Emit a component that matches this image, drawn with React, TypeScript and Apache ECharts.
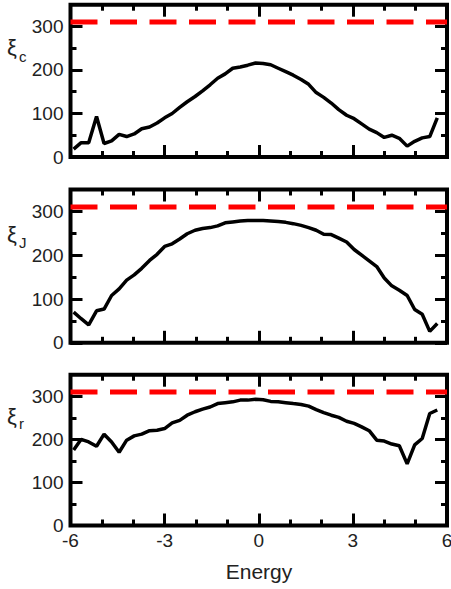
import React, { useEffect, useRef } from 'react';
import * as echarts from 'echarts';

// Energy grid shared by the three panels
const energies = [-5.9, -5.66, -5.42, -5.17, -4.93, -4.69, -4.45, -4.21, -3.97, -3.73, -3.48, -3.24, -3.0, -2.76, -2.52, -2.28, -2.03, -1.79, -1.55, -1.31, -1.07, -0.83, -0.59, -0.35, -0.1, 0.14, 0.38, 0.62, 0.86, 1.1, 1.35, 1.59, 1.83, 2.07, 2.31, 2.55, 2.8, 3.04, 3.28, 3.52, 3.76, 4.0, 4.24, 4.48, 4.73, 4.97, 5.21, 5.45, 5.69];

const xiC = [18, 33, 33, 93, 31, 37, 52, 47, 53, 65, 69, 78, 90, 100, 114, 127, 139, 152, 166, 181, 191, 204, 207, 211, 216, 215, 212, 204, 196, 188, 178, 167, 148, 137, 124, 109, 96, 88, 76, 64, 56, 45, 50, 43, 25, 36, 44, 47, 90];
const xiJ = [70, 55, 41, 73, 77, 108, 123, 143, 155, 170, 188, 202, 220, 226, 237, 249, 257, 261, 263, 267, 274, 276, 278, 279, 279, 279, 278, 277, 275, 272, 268, 263, 257, 248, 247, 239, 230, 213, 200, 187, 174, 148, 130, 120, 108, 76, 65, 26, 44];
const xiR = [175, 200, 194, 184, 212, 194, 170, 198, 208, 212, 220, 221, 225, 238, 244, 256, 264, 270, 275, 283, 285, 287, 291, 291, 293, 292, 288, 287, 285, 283, 281, 277, 269, 262, 256, 251, 242, 237, 229, 220, 198, 196, 189, 185, 143, 187, 202, 260, 268];

const limitValue = 310;
const panelSeries = [xiC, xiJ, xiR];
const panelSubscripts = ['c', 'J', 'r'];
const xLabel = 'Energy';

const FONT = "'Liberation Sans', Arial, Helvetica, sans-serif";
const TEXT = '#222';

const gridBoxes = [
  { top: 4.7, height: 152.3 },
  { top: 189.5, height: 153.3 },
  { top: 374.7, height: 150.8 },
];
const labelPos = [
  { xi: 47, sub: 56 },
  { xi: 234, sub: 242 },
  { xi: 416, sub: 423 },
];

export default function App() {
  const ref = useRef<HTMLDivElement>(null);
  useEffect(() => {
    if (!ref.current) return;
    const chart = echarts.init(ref.current, null, { renderer: 'svg' });
    const grid: any[] = [];
    const xAxis: any[] = [];
    const yAxis: any[] = [];
    const series: any[] = [];
    const graphic: any[] = [];
    const tickStyle = { color: '#000', width: 3 };

    gridBoxes.forEach((g, i) => {
      const isLast = i === gridBoxes.length - 1;
      grid.push({
        left: 70.5, right: 4, top: g.top, height: g.height,
        show: true, borderColor: '#000', borderWidth: 4, backgroundColor: 'transparent',
        containLabel: false, outerBoundsMode: 'none',
      });
      const baseX = {
        type: 'value', gridIndex: i, min: -6, max: 6, interval: 3,
        axisLine: { show: false, onZero: false },
        axisTick: { show: true, inside: true, length: 12, lineStyle: tickStyle },
        minorTick: { show: true, splitNumber: 3, length: 6, lineStyle: tickStyle },
        splitLine: { show: false }, minorSplitLine: { show: false },
      };
      xAxis.push({
        ...baseX, position: 'bottom',
        axisLabel: isLast
          ? { show: true, margin: 5, fontSize: 19, color: TEXT, fontFamily: FONT }
          : { show: false },
      });
      xAxis.push({ ...baseX, position: 'top', axisLabel: { show: false } });

      const baseY = (interval: number, len: number, position: string) => ({
        type: 'value', gridIndex: i, min: 0, max: 350, interval, position,
        axisLine: { show: false, onZero: false },
        axisTick: { show: true, inside: true, length: len, lineStyle: tickStyle },
        splitLine: { show: false },
        axisLabel: { show: false },
      });
      yAxis.push({
        ...baseY(100, 12, 'left'),
        axisLabel: { show: true, margin: 7, fontSize: 19, color: TEXT, fontFamily: FONT, showMaxLabel: false },
      });
      yAxis.push(baseY(50, 6, 'left'));
      yAxis.push(baseY(100, 12, 'right'));
      yAxis.push(baseY(50, 6, 'right'));

      series.push({
        type: 'line', xAxisIndex: 2 * i, yAxisIndex: 4 * i,
        data: [[-6, limitValue], [6, limitValue]],
        symbol: 'none', silent: true, z: 3,
        lineStyle: { color: '#ff0000', width: 5, type: [27, 12.5] },
      });
      series.push({
        type: 'line', xAxisIndex: 2 * i, yAxisIndex: 4 * i,
        data: energies.map((e, k) => [e, panelSeries[i][k]]),
        symbol: 'none', silent: true, z: 4,
        lineStyle: { color: '#000', width: 3.5 },
      });

      graphic.push({
        type: 'text', x: 7, y: labelPos[i].xi,
        style: { text: 'ξ', font: `22px ${FONT}`, fill: TEXT, verticalAlign: 'middle' },
      });
      graphic.push({
        type: 'text', x: 19, y: labelPos[i].sub,
        style: { text: panelSubscripts[i], font: `15px ${FONT}`, fill: TEXT, verticalAlign: 'middle' },
      });
    });

    graphic.push({
      type: 'text', x: 259, y: 571,
      style: { text: xLabel, font: `21px ${FONT}`, fill: TEXT, align: 'center', verticalAlign: 'middle' },
    });

    chart.setOption({
      animation: false,
      backgroundColor: '#fff',
      grid, xAxis, yAxis, series, graphic,
    });
    return () => chart.dispose();
  }, []);
  return (
    <div
      ref={ref}
      style={{ position: 'fixed', left: 0, top: 0, width: 451, height: 589 }}
    />
  );
}
